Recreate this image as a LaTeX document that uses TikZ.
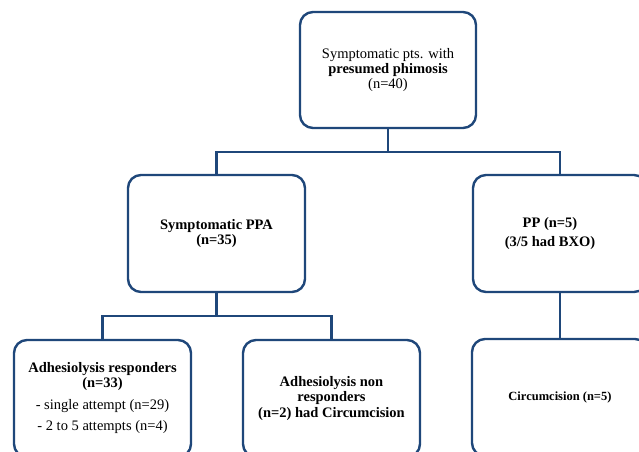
\documentclass[tikz,border=0pt]{standalone}
\usepackage{fontspec}
\setmainfont{Liberation Serif}
\definecolor{boxblue}{RGB}{31,71,122}
\begin{document}
\begin{tikzpicture}[x=1pt,y=-1pt,
  box/.style={draw=boxblue,line width=2.4pt,rounded corners=13pt,fill=white,
    minimum width=177pt,minimum height=117pt,align=center,inner sep=2pt,
    font=\fontsize{14.5}{15}\selectfont},
  conn/.style={draw=boxblue,line width=2.4pt}]
\useasboundingbox (0,0) rectangle (639,451);
\clip (0,0) rectangle (639,451);
\node[box,minimum width=176pt,minimum height=116pt] (top) at (388,70)
  {Symptomatic pts. with\\\textbf{presumed phimosis}\\(n=40)};
\node[box] (ppa) at (216.5,233.5) {\textbf{Symptomatic PPA}\\\textbf{(n=35)}};
\node[box,minimum width=174pt] (pp) at (560,233.5)
  {\textbf{PP (n=5)}\hspace*{20pt}\\[4pt]\textbf{(3/5 had BXO)}\hspace*{20pt}};
\node[box] (resp) at (102.5,398.5)
  {\textbf{Adhesiolysis responders}\\\textbf{(n=33)}\\[7pt]- single attempt (n=29)\\[6pt]- 2 to 5 attempts (n=4)};
\node[box] (nonresp) at (331.5,398.5)
  {\textbf{Adhesiolysis non}\\\textbf{responders}\\[1pt]\textbf{(n=2) had Circumcision}};
\node[box,minimum width=176pt,font=\fontsize{12.5}{14}\selectfont] (circ) at (560,397.5) {\textbf{Circumcision (n=5)}};
\coordinate (j1) at (388,152);
\coordinate (j2) at (216.5,316);
\draw[conn] (top.south) -- (j1);
\draw[conn] (ppa.north) |- (j1) -| (pp.north);
\draw[conn] (ppa.south) -- (j2);
\draw[conn] (resp.north) |- (j2) -| (nonresp.north);
\draw[conn] (pp.south) -- (circ.north);
\end{tikzpicture}
\end{document}
